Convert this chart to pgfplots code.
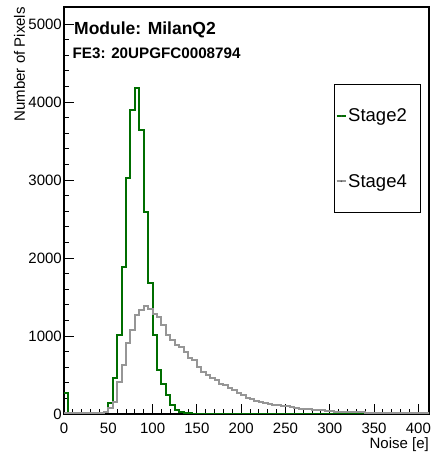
\documentclass[border=0pt]{standalone}
\usepackage{fontspec}
\setmainfont{Liberation Sans}
\usepackage{pgfplots}
\pgfplotsset{compat=1.18}
\definecolor{stagegreen}{RGB}{0,110,0}
\definecolor{stagegray}{RGB}{150,150,150}

\begin{document}
\begin{tikzpicture}
\begin{axis}[name=ax,
    scale only axis, width=365pt, height=407pt,
    xmin=0, xmax=412, ymin=0, ymax=5220,
    axis line style={line width=1.3pt},
    xtick={0,50,...,400}, minor x tick num=4,
    ytick={0,1000,...,5000}, minor y tick num=4,
    xtick pos=left, ytick pos=left, tick align=inside,
    major tick length=10pt, minor tick length=5pt,
    every tick/.style={black, line width=1pt},
    /pgf/number format/assume math mode=true,
    scaled y ticks=false,
    yticklabel style={/pgf/number format/1000 sep={}, anchor=east, inner sep=0pt, xshift=-2pt},
    xticklabel style={anchor=base, inner sep=0pt, yshift=-19.3pt},
    tick label style={font=\fontsize{15}{18}\selectfont},
    xlabel={Noise [e]}, ylabel={Number of Pixels},
    label style={font=\fontsize{15}{18}\selectfont, inner sep=0pt},
    xlabel style={at={(axis description cs:1,-0.0843)}, anchor=base east},
    ylabel style={at={(axis description cs:-0.107,1)}, anchor=base east},
    clip=true,
]
% Stage2 histogram (bin low edge, counts), bin width 5
\addplot[const plot mark left, draw=stagegreen, line width=2pt] coordinates {
(0,270) (5,2) (10,0) (15,0) (20,0) (25,0) (30,0) (35,0) (40,3) (45,20)
(50,145) (55,465) (60,1013) (65,1888) (70,3022) (75,3897) (80,4176) (85,3641)
(90,2594) (95,1676) (100,1013) (105,564) (110,385) (115,244) (120,115) (125,51)
(130,30) (135,18) (140,10) (145,5) (150,2) (155,1) (160,0) (200,0) (300,0) (415,0)
};
% Stage4 histogram
\addplot[const plot mark left, draw=stagegray, line width=2pt] coordinates {
(0,15) (5,8) (10,8) (15,8) (20,8) (25,8) (30,8) (35,8) (40,10) (45,20)
(50,75) (55,160) (60,415) (65,630) (70,905) (75,1075) (80,1265) (85,1330)
(90,1390) (95,1345) (100,1280) (105,1245) (110,1140) (115,1010) (120,950)
(125,890) (130,862) (135,800) (140,715) (145,690) (150,600) (155,540)
(160,500) (165,460) (170,430) (175,390) (180,370) (185,330) (190,310)
(195,270) (200,250) (205,210) (210,190) (215,170) (220,150) (225,140)
(230,130) (235,120) (240,110) (245,105) (250,98) (255,90) (260,80) (265,70)
(270,65) (275,60) (280,55) (285,50) (290,45) (295,40) (300,36) (305,32)
(310,30) (315,28) (320,26) (325,24) (330,22) (335,20) (340,18) (345,16)
(350,15) (355,14) (360,13) (365,12) (370,11) (375,10) (380,10) (385,9)
(390,9) (395,8) (400,8) (405,8) (410,8) (415,8)
};
\end{axis}
% titles
\node[anchor=base west, inner sep=0pt, font=\fontsize{17.5}{20}\selectfont\bfseries]
  at ([xshift=10pt, yshift=-28pt]ax.north west) {Module: MilanQ2};
\node[anchor=base west, inner sep=0pt, font=\fontsize{15.2}{18}\selectfont\bfseries]
  at ([xshift=8.5pt, yshift=-51.3pt]ax.north west) {FE3: 20UPGFC0008794};
% legend
\draw[black, line width=0.8pt, fill=white] ([xshift=270pt, yshift=-77pt]ax.north west)
  rectangle ([xshift=356.7pt, yshift=-205.7pt]ax.north west);
\draw[stagegreen, line width=1.6pt] ([xshift=272.5pt, yshift=-109pt]ax.north west)
  -- ([xshift=282pt, yshift=-109pt]ax.north west);
\fill[black!70] ([xshift=277.3pt, yshift=-109pt]ax.north west) circle (0.8pt);
\draw[stagegray, line width=1.6pt] ([xshift=272.5pt, yshift=-174.3pt]ax.north west)
  -- ([xshift=282pt, yshift=-174.3pt]ax.north west);
\fill[black!70] ([xshift=277.3pt, yshift=-174.3pt]ax.north west) circle (0.8pt);
\node[anchor=base west, inner sep=0pt, font=\fontsize{18.5}{21}\selectfont]
  at ([xshift=284pt, yshift=-115pt]ax.north west) {Stage2};
\node[anchor=base west, inner sep=0pt, font=\fontsize{18.5}{21}\selectfont]
  at ([xshift=284pt, yshift=-180.3pt]ax.north west) {Stage4};
% page frame matching the reference
\path ([xshift=-64pt, yshift=-41pt]ax.south west) rectangle ([xshift=3pt, yshift=7pt]ax.north east);
\end{tikzpicture}
\end{document}
